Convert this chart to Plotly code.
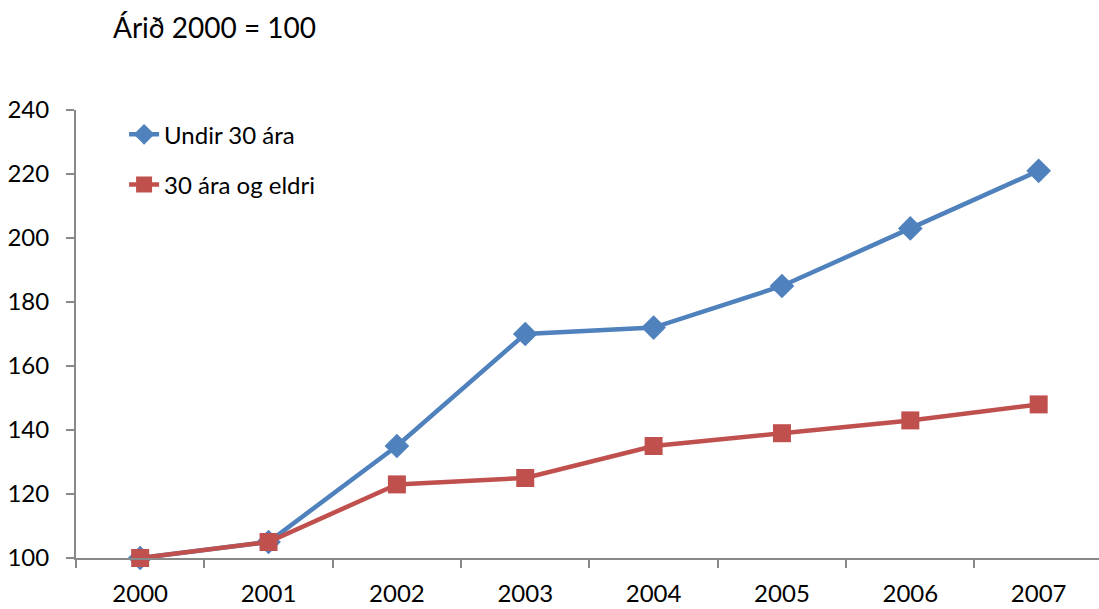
import plotly.graph_objects as go

years = ["2000", "2001", "2002", "2003", "2004", "2005", "2006", "2007"]
undir30 = [100, 105, 135, 170, 172, 185, 203, 221]
eldri30 = [100, 105, 123, 125, 135, 139, 143, 148]
yticks = [100, 120, 140, 160, 180, 200, 220, 240]
title_text = "Árið 2000 = 100"
names = ["Undir 30 ára", "30 ára og eldri"]

FONT = "Lato"
fig = go.Figure()
fig.add_trace(go.Scatter(
    x=years, y=undir30, name=names[0], mode="lines+markers",
    line=dict(color="#4F81BD", width=4.5),
    marker=dict(symbol="diamond", size=19, color="#4F81BD"),
    cliponaxis=False, legendgroup="a"))
fig.add_trace(go.Scatter(
    x=years, y=eldri30, name=names[1], mode="lines+markers",
    line=dict(color="#C0504D", width=4.5),
    marker=dict(symbol="square", size=18, color="#C0504D"),
    cliponaxis=False, legendgroup="b"))

fig.update_layout(
    width=1099, height=609,
    margin=dict(l=76, r=0, t=110, b=51, autoexpand=False),
    paper_bgcolor="white", plot_bgcolor="white",
    font=dict(family=FONT, size=24, color="black"),
    title=dict(text=title_text, x=113/1099, xanchor="left", xref="container",
               y=1-28/609, yanchor="middle", yref="container",
               font=dict(family=FONT, size=28, color="black")),
    legend=dict(x=0.047, y=0.995, xanchor="left", yanchor="top",
                font=dict(family=FONT, size=24, color="black"),
                traceorder="grouped", tracegroupgap=16,
                bgcolor="rgba(0,0,0,0)"),
    xaxis=dict(type="category", range=[-0.5, 7.47], tickson="boundaries",
               ticks="outside", ticklen=8, tickcolor="#888", tickwidth=2,
               showline=True, linecolor="#888", linewidth=2, automargin=False,
               showgrid=False, zeroline=False, ticklabelstandoff=13,
               tickfont=dict(family=FONT, size=24)),
    yaxis=dict(range=[100, 240], tickvals=yticks,
               ticks="outside", ticklen=8, tickcolor="#888", tickwidth=2,
               showline=True, linecolor="#888", linewidth=2, automargin=False,
               showgrid=False, zeroline=False, ticklabelstandoff=12,
               tickfont=dict(family=FONT, size=24)),
)
fig.write_html("out.html")
